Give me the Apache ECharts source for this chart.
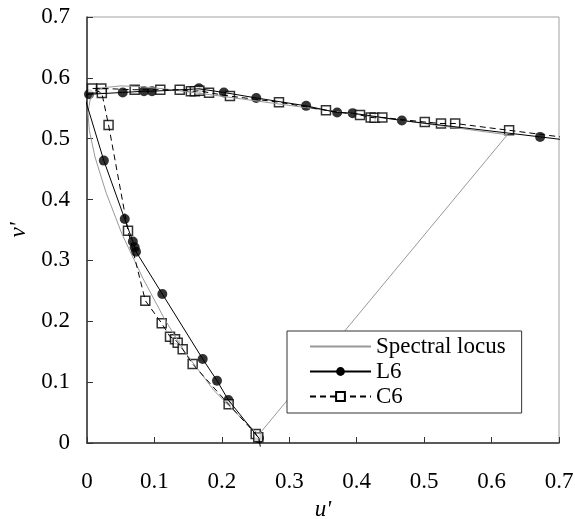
<!DOCTYPE html>
<html>
<head>
<meta charset="utf-8">
<style>
  html, body { margin: 0; padding: 0; background: #fff; }
  #chart { width: 575px; height: 519px; }
</style>
<script src="https://cdn.jsdelivr.net/npm/echarts@6/dist/echarts.min.js"></script>
</head>
<body>
<div id="chart"></div>
<script>
// CIE 1976 u'v' spectral locus, 380 nm -> 700 nm, closed by the purple line
const locusU = [0.2568, 0.2557, 0.2522, 0.2461, 0.2347, 0.2161, 0.1877, 0.1441, 0.1147, 0.0828,
  0.0521, 0.0282, 0.0119, 0.0035, 0.0014, 0.0046, 0.0123, 0.0231, 0.0501, 0.0792,
  0.1127, 0.1531, 0.2026, 0.2623, 0.3315, 0.4035, 0.4692, 0.5203, 0.5565, 0.5830,
  0.6005, 0.6109, 0.6199, 0.6234, 0.2568];
const locusV = [0.0165, 0.0159, 0.0169, 0.0226, 0.0350, 0.0549, 0.0871, 0.1510, 0.2044, 0.2708,
  0.3427, 0.4117, 0.4699, 0.5131, 0.5432, 0.5638, 0.5770, 0.5837, 0.5868, 0.5856,
  0.5821, 0.5766, 0.5694, 0.5604, 0.5501, 0.5393, 0.5296, 0.5219, 0.5165, 0.5125,
  0.5099, 0.5084, 0.5070, 0.5065, 0.0165];

// L6 gamut boundary (curve) and measured primaries (points)
const l6CurveU = [0.709, 0.672, 0.467, 0.394, 0.371, 0.325, 0.251, 0.203, 0.166, 0.0964, 0.0845,
  0.053, 0.003, -0.004, 0.025, 0.056, 0.068, 0.0707, 0.0727, 0.1117, 0.1716, 0.1928, 0.2096, 0.255, 0.257];
const l6CurveV = [0.498, 0.503, 0.530, 0.542, 0.543, 0.554, 0.567, 0.576, 0.582, 0.578, 0.578,
  0.576, 0.573, 0.570, 0.464, 0.368, 0.331, 0.3216, 0.3144, 0.2448, 0.138, 0.1024, 0.0707, 0.008, -0.006];
const l6U = [0.003, 0.053, 0.0845, 0.0964, 0.166, 0.203, 0.251, 0.325, 0.371, 0.394, 0.467, 0.672,
  0.025, 0.056, 0.068, 0.0707, 0.0727, 0.1117, 0.1716, 0.1928, 0.2096, 0.255];
const l6V = [0.573, 0.576, 0.578, 0.578, 0.583, 0.576, 0.567, 0.554, 0.543, 0.542, 0.530, 0.503,
  0.464, 0.368, 0.331, 0.3216, 0.3144, 0.2448, 0.138, 0.1024, 0.0707, 0.008];

// C6 gamut boundary (curve) and measured primaries (points)
const c6CurveU = [0.709, 0.626, 0.546, 0.525, 0.501, 0.438, 0.4265, 0.4207, 0.4049, 0.3544, 0.2847,
  0.212, 0.181, 0.1666, 0.160, 0.154, 0.1375, 0.1087, 0.0707, 0.0212, 0.0074, 0.022, 0.032,
  0.0608, 0.0865, 0.1108, 0.1231, 0.1305, 0.1345, 0.1419, 0.1567, 0.2101, 0.2502, 0.255];
const c6CurveV = [0.502, 0.5138, 0.525, 0.525, 0.5274, 0.535, 0.5345, 0.535, 0.539, 0.5467, 0.560,
  0.570, 0.5756, 0.579, 0.578, 0.578, 0.5805, 0.5805, 0.5805, 0.5826, 0.5826, 0.575, 0.5225,
  0.3489, 0.2339, 0.1967, 0.1747, 0.1704, 0.1648, 0.154, 0.1298, 0.0636, 0.0148, 0.004];
const c6U = [0.0074, 0.0212, 0.022, 0.0707, 0.1087, 0.1375, 0.154, 0.160, 0.1666, 0.181, 0.212,
  0.2847, 0.3544, 0.4049, 0.4207, 0.4265, 0.438, 0.501, 0.525, 0.546, 0.626,
  0.032, 0.0608, 0.0865, 0.1108, 0.1231, 0.1305, 0.1345, 0.1419, 0.1567, 0.2101, 0.2502, 0.254];
const c6V = [0.5826, 0.5826, 0.575, 0.5805, 0.5805, 0.5805, 0.578, 0.578, 0.579, 0.5756, 0.570,
  0.560, 0.5467, 0.539, 0.535, 0.5345, 0.535, 0.5274, 0.525, 0.525, 0.5138,
  0.5225, 0.3489, 0.2339, 0.1967, 0.1747, 0.1704, 0.1648, 0.154, 0.1298, 0.0636, 0.0148, 0.0094];

const axisTicks = [0, 0.1, 0.2, 0.3, 0.4, 0.5, 0.6, 0.7];

const pairs = (us, vs) => us.map((u, i) => [u, vs[i]]);

const FONT = 'Liberation Serif';
const FONT_SIZE = 23;
const chart = echarts.init(document.getElementById('chart'), null, { renderer: 'canvas' });

const axisCommon = {
  type: 'value',
  min: axisTicks[0],
  max: axisTicks[axisTicks.length - 1],
  interval: 0.1,
  nameLocation: 'middle',
  nameTextStyle: { fontFamily: FONT, fontSize: FONT_SIZE, fontStyle: 'italic', color: '#000' },
  axisLine: { show: true, onZero: false, lineStyle: { color: '#333', width: 1.5 } },
  axisTick: { show: true, inside: true, length: 6, lineStyle: { color: '#333', width: 1 } },
  axisLabel: { fontFamily: FONT, fontSize: FONT_SIZE, color: '#000' },
  splitLine: { show: false }
};

chart.setOption({
  animation: false,
  backgroundColor: '#fff',
  grid: {
    left: 87, top: 17, right: 16, bottom: 76,
    containLabel: false, outerBoundsMode: 'none',
    show: true, borderColor: '#a0a0a0', borderWidth: 1, backgroundColor: 'transparent'
  },
  xAxis: Object.assign({}, axisCommon, {
    name: "u'", nameGap: 55,
    axisLabel: Object.assign({}, axisCommon.axisLabel, { margin: 27 })
  }),
  yAxis: Object.assign({}, axisCommon, {
    name: "v'", nameGap: 47,
    axisLabel: Object.assign({}, axisCommon.axisLabel, { margin: 17 })
  }),
  legend: {
    orient: 'vertical',
    left: 287, top: 331,
    padding: [4, 16, 5, 22],
    itemGap: 2,
    itemWidth: 61,
    itemHeight: 11,
    borderColor: '#333', borderWidth: 1, borderRadius: 0,
    backgroundColor: '#fff',
    selectedMode: false,
    textStyle: { fontFamily: FONT, fontSize: FONT_SIZE, color: '#000' },
    data: [
      { name: 'Spectral locus', itemStyle: { opacity: 0 } },
      { name: 'L6' },
      { name: 'C6' }
    ]
  },
  series: [
    {
      name: 'Spectral locus', type: 'line', data: pairs(locusU, locusV),
      symbol: 'none', clip: false, silent: true,
      itemStyle: { color: '#999' },
      lineStyle: { color: '#999', width: 1 }
    },
    {
      name: 'L6', type: 'line', data: pairs(l6CurveU, l6CurveV),
      symbol: 'circle', showSymbol: false, clip: false, silent: true,
      itemStyle: { color: '#000' },
      lineStyle: { color: '#000', width: 1 }
    },
    {
      name: 'C6', type: 'line', data: pairs(c6CurveU, c6CurveV),
      symbol: 'rect', showSymbol: false, clip: false, silent: true,
      itemStyle: { color: '#fff', borderColor: '#000', borderWidth: 1.5 },
      lineStyle: { color: '#000', width: 1, type: [6, 4] }
    },
    {
      name: 'L6 points', type: 'scatter', data: pairs(l6U, l6V),
      symbol: 'circle', symbolSize: 10, clip: false, silent: true,
      itemStyle: { color: '#000' }
    },
    {
      name: 'C6 points', type: 'scatter', data: pairs(c6U, c6V),
      symbol: 'rect', symbolSize: 9, clip: false, silent: true,
      itemStyle: { color: '#fff', borderColor: '#000', borderWidth: 1.5 }
    }
  ]
});
</script>
</body>
</html>
